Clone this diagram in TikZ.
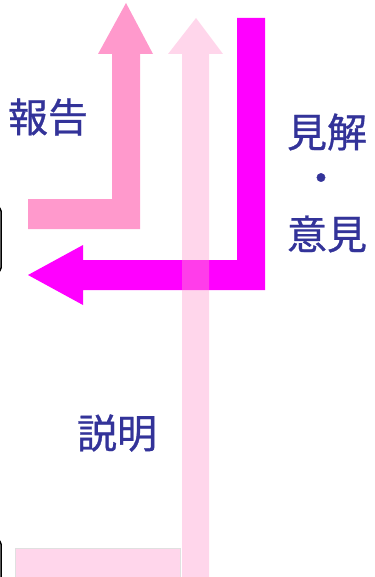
\documentclass[tikz,border=0pt]{standalone}
\usepackage{fontspec}
\newfontfamily\cjk[FakeBold=0.8]{Noto Sans CJK JP}
\definecolor{txtblue}{HTML}{333399}
\definecolor{pinkA}{HTML}{FF99CC}
\definecolor{magA}{HTML}{FF00FF}
\definecolor{pinkB}{HTML}{FFD6EB}
\begin{document}
\begin{tikzpicture}[x=1pt,y=-1pt,
  lbl/.style={text=txtblue,font=\cjk\fontsize{40}{48}\selectfont,inner sep=0pt,anchor=center},
  edgebox/.style={draw=black,line width=1.5pt,rounded corners=4pt}]
\useasboundingbox (0,0) rectangle (374,577);
% cut-off boxes at left edge
\draw[edgebox] (-40,207) rectangle (1,272);
\draw[edgebox] (-40,540) rectangle (1,600);
% report arrow
\fill[pinkA] (28,199) -- (112,199) -- (112,54) -- (98,54) -- (126,3) -- (153,54) -- (140,54) -- (140,229) -- (28,229) -- cycle;
% opinion arrow
\fill[magA] (237,18) -- (265,18) -- (265,290) -- (83,290) -- (83,305) -- (28,275) -- (83,245) -- (83,260) -- (237,260) -- cycle;
% explanation bar and arrow
\filldraw[fill=pinkB,draw=black!12,line width=0.8pt] (15,548) rectangle (180,580);
\fill[pinkA,fill opacity=0.4] (182,580) -- (182,54) -- (168,54) -- (196,18) -- (223,54) -- (209,54) -- (209,580) -- cycle;
% labels
\node[lbl] (hokoku) at (48,117) {報告};
\node[lbl] (kenkai) at (327,132) {見解};
\node[lbl] (dot) at (321,183) {・};
\node[lbl] (iken) at (327,234) {意見};
\node[lbl] (setsumei) at (117,433) {説明};
\end{tikzpicture}
\end{document}
